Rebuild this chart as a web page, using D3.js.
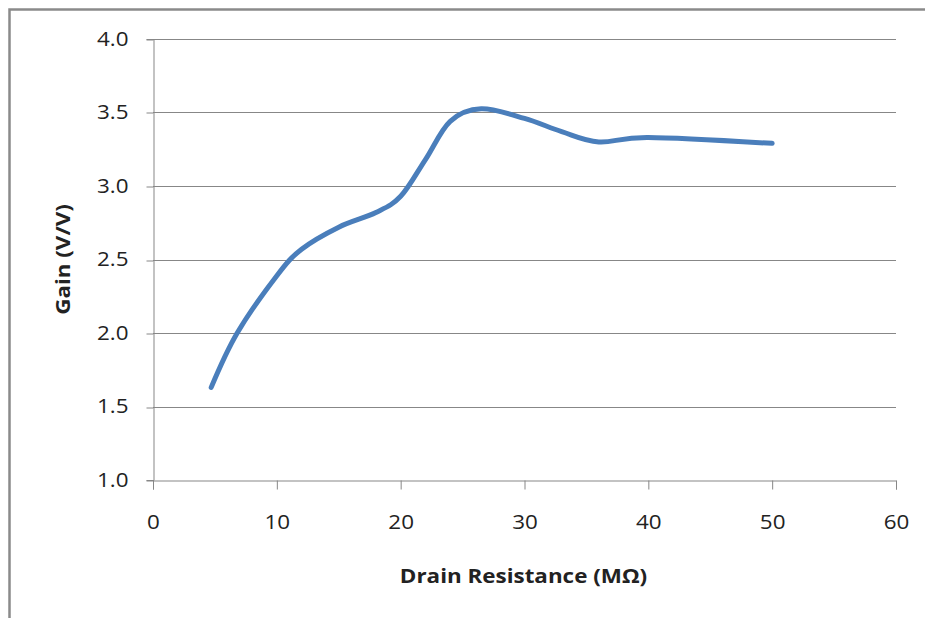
<!DOCTYPE html>
<html>
<head>
<meta charset="utf-8">
<script src="https://cdn.jsdelivr.net/npm/d3@7"></script>
<style>
  html, body { margin: 0; padding: 0; background: #fff; }
  svg { display: block; }
  text { font-family: "Open Sans", "Noto Sans", sans-serif; fill: #222; }
</style>
</head>
<body>
<svg id="chart" width="925" height="618"></svg>
<script>
// Data
const resistance = [4.7, 6.8, 10, 12, 15, 18, 20, 22, 24, 26.5, 30, 33, 36, 40, 50];
const gain       = [1.63, 2.00, 2.39, 2.57, 2.72, 2.82, 2.93, 3.18, 3.44, 3.525, 3.46, 3.37, 3.30, 3.33, 3.29];
const xTicks = [0, 10, 20, 30, 40, 50, 60];
const yTicks = [1.0, 1.5, 2.0, 2.5, 3.0, 3.5, 4.0];
const xTitle = "Drain Resistance (MΩ)";
const yTitle = "Gain (V/V)";

const svg = d3.select("#chart");
const W = 925, H = 618;
const m = { left: 153, right: 896, top: 39, bottom: 480 };
const stretch = 1.12;   // reference text is horizontally wide

function widen(sel) {
  sel.each(function () {
    const w = this.getComputedTextLength();
    d3.select(this).attr("textLength", w * stretch).attr("lengthAdjust", "spacingAndGlyphs");
  });
}

// chart frame (only top/left visible in the picture)
svg.append("rect")
  .attr("x", 9.5).attr("y", 9.5)
  .attr("width", W + 20).attr("height", H + 20)
  .attr("fill", "none").attr("stroke", "#8a8a8a").attr("stroke-width", 2.5);

const x = d3.scaleLinear().domain([0, 60]).range([m.left, m.right]);
const y = d3.scaleLinear().domain([1.0, 4.0]).range([m.bottom, m.top]);

const gridColor = "#878787";

// horizontal gridlines
svg.append("g")
  .selectAll("line")
  .data(yTicks.filter(d => d > 1.0))
  .join("line")
  .attr("x1", m.left).attr("x2", m.right)
  .attr("y1", d => Math.round(y(d)) + 0.5).attr("y2", d => Math.round(y(d)) + 0.5)
  .attr("stroke", gridColor).attr("stroke-width", 1);

// y axis
const yAxis = svg.append("g")
  .attr("transform", `translate(${m.left + 0.5},0)`)
  .call(d3.axisLeft(y).tickValues(yTicks).tickFormat(d3.format(".1f")).tickSize(7).tickPadding(18));
yAxis.select(".domain").attr("stroke", gridColor);
yAxis.selectAll(".tick line").attr("stroke", gridColor)
  .attr("transform", d => `translate(0,${Math.round(y(d)) + 0.5 - y(d)})`);
yAxis.selectAll(".tick text")
  .style("font-size", "20px").style("font-family", "'Open Sans', sans-serif").attr("fill", "#222")
  .call(widen);

// x axis
const xAxis = svg.append("g")
  .attr("transform", `translate(0,${m.bottom + 0.5})`)
  .call(d3.axisBottom(x).tickValues(xTicks).tickFormat(d3.format("d")).tickSize(9).tickPadding(25));
xAxis.select(".domain").attr("stroke", gridColor);
xAxis.selectAll(".tick line").attr("stroke", gridColor);
xAxis.selectAll(".tick text")
  .style("font-size", "20px").style("font-family", "'Open Sans', sans-serif").attr("fill", "#222")
  .call(widen);

// line
const line = d3.line()
  .x((d, i) => x(resistance[i]))
  .y(d => y(d))
  .curve(d3.curveCatmullRom.alpha(0));

svg.append("path")
  .datum(gain)
  .attr("d", line)
  .attr("fill", "none")
  .attr("stroke", "#4a7ebb")
  .attr("stroke-width", 5)
  .attr("stroke-linecap", "round")
  .attr("stroke-linejoin", "round");

// axis titles
svg.append("text")
  .attr("x", (m.left + m.right) / 2 - 1)
  .attr("y", 583)
  .attr("text-anchor", "middle")
  .style("font-size", "20px").style("font-weight", "bold")
  .text(xTitle)
  .call(widen);

svg.append("text")
  .attr("transform", `translate(70,${(m.top + m.bottom) / 2}) rotate(-90)`)
  .attr("text-anchor", "middle")
  .style("font-size", "20px").style("font-weight", "bold")
  .text(yTitle)
  .call(widen);
</script>
</body>
</html>
